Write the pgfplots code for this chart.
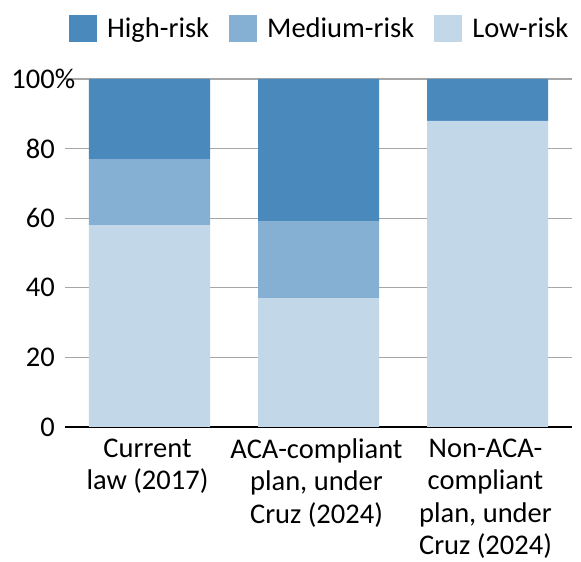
\documentclass[border=0pt]{standalone}
\usepackage{fontspec}
\setmainfont{Carlito}
\usepackage{pgfplots}
\pgfplotsset{compat=1.18}
\definecolor{hi}{HTML}{4A89BB}
\definecolor{med}{HTML}{86B0D3}
\definecolor{low}{HTML}{C2D8E9}
\begin{document}
\begin{tikzpicture}[font=\fontsize{28.5}{34}\selectfont]
\begin{axis}[
  name=ax,
  at={(0,0)}, anchor=south west,
  scale only axis, width=507pt, height=348pt,
  ybar stacked, bar width=121pt,
  xmin=-0.5, xmax=2.5, ymin=0, ymax=100,
  xtick={0,1,2},
  xticklabels={{Current\\law (2017)},{ACA-compliant\\plan, under\\Cruz (2024)},{Non-ACA-\\compliant\\plan, under\\Cruz (2024)}},
  xticklabel style={align=center, anchor=north, yshift=-8pt, xshift=-2pt, font=\fontsize{28.5}{32.5}\selectfont},
  ytick={0,20,40,60,80,100},
  yticklabels={0,20,40,60,80,100\rlap{\%}},
  yticklabel style={anchor=east, inner sep=0pt, xshift=-10pt},
  /pgf/number format/assume math mode=true,
  major tick length=0pt,
  ymajorgrids, grid style={color=black!35, line width=1.2pt},
  axis x line*=bottom, axis y line*=left,
  x axis line style={black, line width=2.5pt},
  y axis line style={draw=none},
  legend columns=3,
  legend style={draw=none, fill=none, inner sep=0pt,
    at={(0,1)}, anchor=south west, xshift=4pt, yshift=37pt,
    /tikz/every even column/.append style={column sep=20pt},
    nodes={inner sep=0pt, anchor=west}},
  legend image code/.code={\fill[#1] (0pt,-13.5pt) rectangle (28pt,13.5pt); \path (38pt,0pt);},
]
\addlegendimage{fill=hi, draw=none}
\addlegendimage{fill=med, draw=none}
\addlegendimage{fill=low, draw=none}
\legend{High-risk, Medium-risk, Low-risk}
\addplot[fill=low, draw=none, forget plot] coordinates {(0,58) (1,37) (2,88)};
\addplot[fill=med, draw=none, forget plot] coordinates {(0,19) (1,22) (2,0)};
\addplot[fill=hi, draw=none, forget plot] coordinates {(0,23) (1,41) (2,12)};
\end{axis}
\path (ax.south west) ++(-65pt,-134pt) coordinate (bl);
\path (ax.south west) ++(516pt,427pt) coordinate (tr);
\path (bl) rectangle (tr);
\end{tikzpicture}
\end{document}
